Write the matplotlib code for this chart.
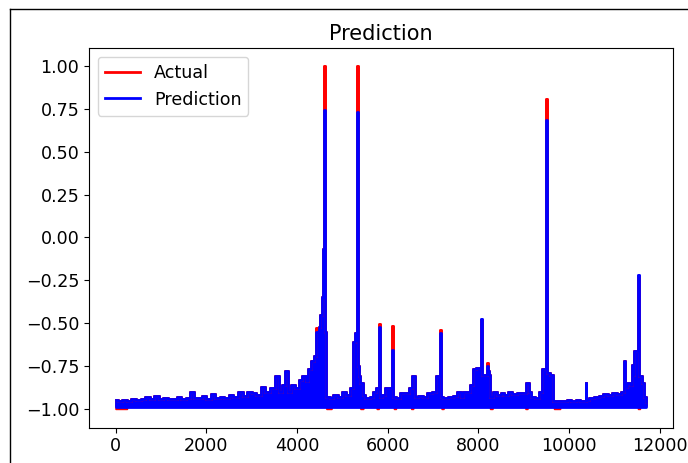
import numpy as np
import matplotlib
matplotlib.use("Agg")
import matplotlib.pyplot as plt
from matplotlib.lines import Line2D

# upper outline of both series (sample index, value)
sample_x = [0, 100, 200, 300, 400, 500, 600, 700, 800, 900, 1000, 1100, 1200, 1300, 1400,
            1500, 1600, 1680, 1760, 1850, 1950, 2050, 2150, 2250, 2350, 2450, 2550, 2650,
            2750, 2850, 2950, 3050, 3150, 3250, 3350, 3450, 3560, 3640, 3700, 3760, 3830,
            3900, 4000, 4080, 4160, 4220, 4280, 4350, 4400, 4450, 4500, 4530, 4560, 4580,
            4600, 4620, 4640, 4700, 4760, 4850, 4950, 5050, 5120, 5200, 5250, 5290, 5325,
            5340, 5355, 5380, 5420, 5470, 5550, 5650, 5720, 5780, 5805, 5820, 5835, 5900,
            5980, 6050, 6095, 6110, 6125, 6230, 6320, 6420, 6500, 6570, 6620, 6720, 6820,
            6920, 7020, 7090, 7145, 7160, 7175, 7280, 7380, 7480, 7580, 7640, 7700, 7780,
            7860, 7920, 7990, 8060, 8075, 8090, 8130, 8185, 8200, 8215, 8240, 8290, 8360,
            8450, 8530, 8620, 8700, 8800, 8900, 9000, 9080, 9130, 9200, 9300, 9380, 9440,
            9490, 9505, 9520, 9560, 9620, 9670, 9800, 9900, 10000, 10100, 10200, 10300,
            10360, 10375, 10390, 10500, 10600, 10700, 10800, 10900, 11000, 11100, 11170,
            11205, 11220, 11235, 11310, 11385, 11400, 11415, 11450, 11515, 11530, 11545,
            11580, 11620, 11680, 11700]

pred_y = [-0.95, -0.955, -0.95, -0.955, -0.94, -0.95, -0.945, -0.93, -0.94, -0.925, -0.94,
          -0.935, -0.945, -0.94, -0.93, -0.945, -0.935, -0.90, -0.935, -0.935, -0.925,
          -0.94, -0.915, -0.935, -0.93, -0.935, -0.92, -0.93, -0.90, -0.925, -0.90, -0.905,
          -0.92, -0.87, -0.90, -0.88, -0.81, -0.90, -0.86, -0.78, -0.90, -0.86, -0.88,
          -0.83, -0.81, -0.84, -0.77, -0.72, -0.69, -0.55, -0.52, -0.45, -0.35, -0.07,
          0.745, -0.55, -0.93, -0.93, -0.935, -0.92, -0.93, -0.90, -0.92, -0.88, -0.61,
          -0.56, -0.60, 0.73, -0.75, -0.81, -0.85, -0.92, -0.935, -0.93, -0.90, -0.88,
          -0.88, -0.52, -0.93, -0.92, -0.88, -0.88, -0.88, -0.655, -0.93, -0.935, -0.905,
          -0.91, -0.88, -0.81, -0.93, -0.925, -0.93, -0.91, -0.90, -0.81, -0.81, -0.555,
          -0.93, -0.935, -0.93, -0.925, -0.90, -0.93, -0.90, -0.90, -0.86, -0.77, -0.76,
          -0.76, -0.475, -0.80, -0.80, -0.80, -0.75, -0.78, -0.80, -0.93, -0.90, -0.92,
          -0.905, -0.92, -0.90, -0.915, -0.905, -0.91, -0.85, -0.90, -0.93, -0.935, -0.90,
          -0.77, -0.77, 0.685, -0.79, -0.79, -0.80, -0.955, -0.955, -0.955, -0.95, -0.955,
          -0.95, -0.955, -0.955, -0.85, -0.95, -0.935, -0.93, -0.925, -0.915, -0.92, -0.91,
          -0.915, -0.90, -0.90, -0.72, -0.87, -0.85, -0.86, -0.745, -0.80, -0.66, -0.66,
          -0.22, -0.81, -0.81, -0.85, -0.93, -0.96]

act_y = [-0.95, -0.955, -0.95, -0.955, -0.94, -0.95, -0.945, -0.93, -0.94, -0.925, -0.94,
         -0.935, -0.945, -0.94, -0.93, -0.945, -0.935, -0.90, -0.935, -0.935, -0.925,
         -0.94, -0.915, -0.935, -0.93, -0.935, -0.92, -0.93, -0.90, -0.925, -0.90, -0.905,
         -0.92, -0.87, -0.90, -0.88, -0.81, -0.90, -0.86, -0.78, -0.90, -0.86, -0.88,
         -0.83, -0.81, -0.84, -0.77, -0.72, -0.69, -0.53, -0.52, -0.45, -0.35, -0.07,
         1.0, -0.55, -0.93, -0.93, -0.935, -0.92, -0.93, -0.90, -0.92, -0.88, -0.61,
         -0.56, -0.60, 1.0, -0.75, -0.81, -0.85, -0.92, -0.935, -0.93, -0.90, -0.88,
         -0.88, -0.505, -0.93, -0.92, -0.88, -0.88, -0.88, -0.515, -0.93, -0.935, -0.905,
         -0.91, -0.88, -0.81, -0.93, -0.925, -0.93, -0.91, -0.90, -0.81, -0.81, -0.54,
         -0.93, -0.935, -0.93, -0.925, -0.90, -0.93, -0.90, -0.90, -0.86, -0.77, -0.76,
         -0.76, -0.48, -0.80, -0.80, -0.80, -0.73, -0.78, -0.80, -0.93, -0.90, -0.92,
         -0.905, -0.92, -0.90, -0.915, -0.905, -0.91, -0.85, -0.90, -0.93, -0.935, -0.90,
         -0.77, -0.77, 0.805, -0.79, -0.79, -0.80, -0.955, -0.955, -0.955, -0.95, -0.955,
         -0.95, -0.955, -0.955, -0.85, -0.95, -0.935, -0.93, -0.925, -0.915, -0.92, -0.91,
         -0.915, -0.90, -0.90, -0.72, -0.87, -0.85, -0.86, -0.745, -0.80, -0.66, -0.66,
         -0.23, -0.81, -0.81, -0.85, -0.93, -0.96]

# bottom of the noisy band
pred_floor = -0.988
act_floor = -0.98

# places where the actual series dips below the prediction band
dip_x = [0, 250, 260, 4640, 4650, 4760, 4770, 5390, 5400, 5460, 5470, 5750, 5760, 5800,
         5810, 6130, 6140, 6180, 6190, 6510, 6520, 6560, 6570, 7180, 7190, 7230, 7240,
         8250, 8260, 8310, 8320, 9030, 9040, 9080, 9090, 9660, 9670, 9800, 9810, 11510,
         11520, 11560, 11570, 11700]
dip_y = [-1.0, -1.0, -0.98, -0.98, -1.0, -1.0, -0.98, -0.98, -1.0, -1.0, -0.98, -0.98,
         -1.0, -1.0, -0.98, -0.98, -1.0, -1.0, -0.98, -0.98, -1.0, -1.0, -0.98, -0.98,
         -1.0, -1.0, -0.98, -0.98, -1.0, -1.0, -0.98, -0.98, -1.0, -1.0, -0.98, -0.98,
         -1.0, -1.0, -0.98, -0.98, -1.0, -1.0, -0.98, -0.98]

plt.rcParams["font.size"] = 12.6

fig = plt.figure(figsize=(6.88, 4.63), dpi=100)
ax = fig.add_axes([0.1294, 0.0762, 0.8484, 0.8201])

lw = 2.0

# actual first, prediction on top
ax.fill_between(sample_x, act_y, act_floor, step="mid", color="r", lw=lw)
ax.fill_between(dip_x, dip_y, act_floor, color="r", lw=1.2)
ax.plot(sample_x, act_y, color="r", lw=lw, drawstyle="steps-mid", label="Actual")
ax.fill_between(sample_x, pred_y, pred_floor, step="mid", color="b", lw=lw)
ax.plot(sample_x, pred_y, color="b", lw=lw, drawstyle="steps-mid", label="Prediction")

ax.set_xlim(-585, 12285)
ax.set_ylim(-1.11, 1.105)
ax.set_yticks(np.arange(-1.0, 1.01, 0.25))
ax.set_title("Prediction", fontsize=15)
ax.legend(loc="upper left")

# screenshot frame lines
fig.add_artist(Line2D([10 / 688, 1], [1 - 9 / 463, 1 - 9 / 463], transform=fig.transFigure,
                      color="k", lw=1))
fig.add_artist(Line2D([10 / 688, 10 / 688], [0, 1 - 9 / 463], transform=fig.transFigure,
                      color="k", lw=1))

fig.savefig("out.png", dpi=100)
